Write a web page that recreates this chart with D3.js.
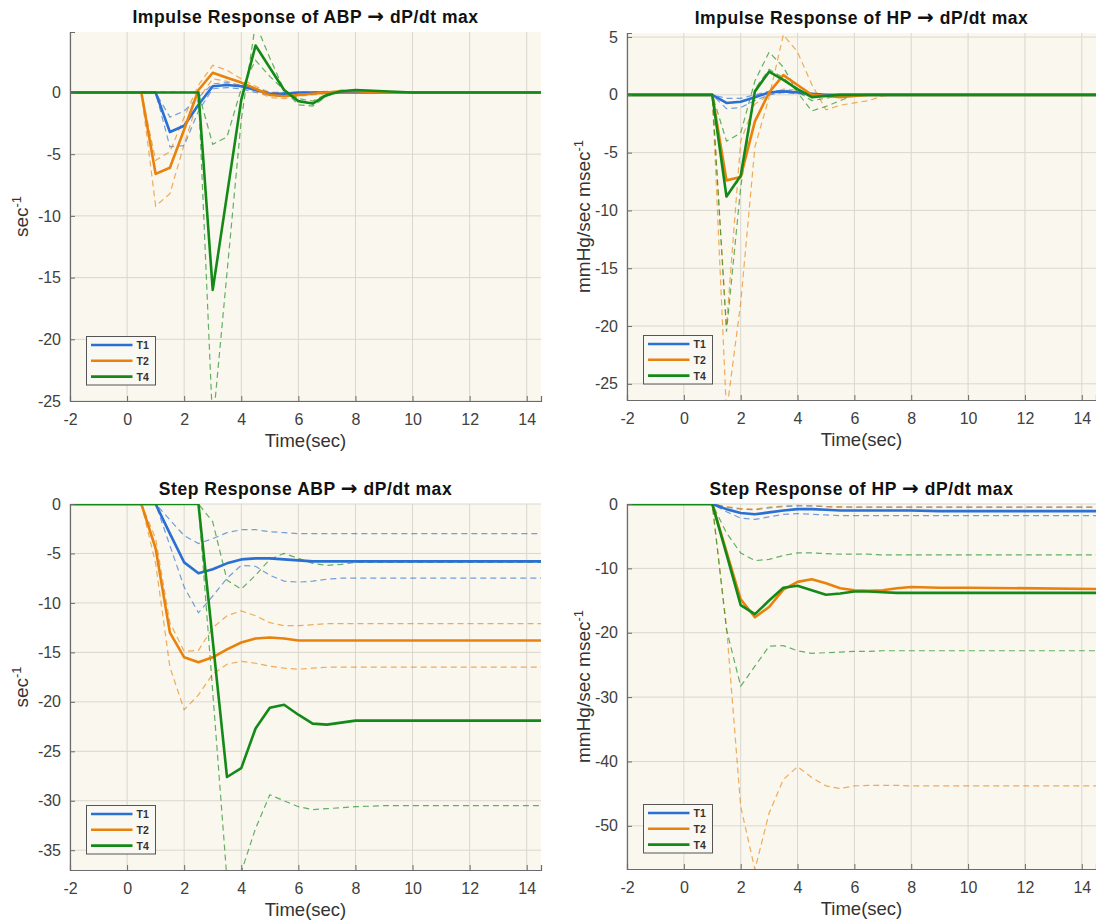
<!DOCTYPE html>
<html>
<head>
<meta charset="utf-8">
<script src="https://cdn.jsdelivr.net/npm/d3@7"></script>
<style>
  body { margin: 0; background: #fff; }
  svg { font-family: "Liberation Sans", Arial, sans-serif; }
</style>
</head>
<body>
<svg id="chart" width="1096" height="924"></svg>
<script>
/* ---------- data (sample times shared by every curve) ---------- */
var time = [-2, 0, 0.5, 1, 1.5, 2, 2.5, 3, 3.5, 4, 4.5, 5, 5.5, 6, 6.5, 7, 7.5, 8, 9, 10, 14.5];

var seriesNames = ['T1', 'T2', 'T4'];
var seriesColors = ['#2a6fd3', '#e8820c', '#138a17'];

// impulse response ABP -> dP/dt max  (mean, upper, lower)
var impAbpT1  = [0,0,0,0,-3.2,-2.7,-1.0,0.5,0.6,0.5,0.2,-0.1,-0.1,0,0,0,0,0,0,0,0];
var impAbpT1a = [0,0,0,0,-2.0,-1.5,-0.4,0.7,0.8,0.6,0.3,0,0,0,0,0,0,0,0,0,0];
var impAbpT1b = [0,0,0,0,-4.4,-4.3,-1.5,0.3,0.4,0.3,0,-0.2,-0.2,0,0,0,0,0,0,0,0];
var impAbpT2  = [0,0,0,-6.6,-6.1,-3.0,0.2,1.6,1.2,0.8,0.3,-0.2,-0.3,-0.2,-0.1,0,0.1,0.1,0,0,0];
var impAbpT2a = [0,0,0,-5.5,-4.8,-2.0,0.6,2.2,1.8,1.1,0.5,0,-0.1,-0.1,0,0.1,0.1,0.1,0,0,0];
var impAbpT2b = [0,0,0,-9.2,-8.2,-4.2,-0.5,1.1,0.9,0.5,0.1,-0.4,-0.5,-0.3,-0.2,-0.1,0,0.1,0,0,0];
var impAbpT4  = [0,0,0,0,0,0,0,-16,-8.3,-0.6,3.8,2.0,0.2,-0.7,-0.9,-0.2,0.1,0.2,0.1,0,0];
var impAbpT4a = [0,0,0,0,0,0,0,-4.2,-3.6,0.3,2.6,1.3,0.2,-0.5,-0.7,-0.1,0.2,0.1,0,0,0];
var impAbpT4b = [0,0,0,0,0,0,0,-27,-14.6,-2.2,5.6,2.8,0.2,-1.0,-1.1,-0.3,0.1,0.2,0.1,0,0];

// impulse response HP -> dP/dt max
var impHpT1  = [0,0,0,0,-0.7,-0.6,-0.2,0.2,0.3,0.2,0.1,0,0,0,0,0,0,0,0,0,0];
var impHpT1a = [0,0,0,0,-0.3,-0.3,0,0.3,0.4,0.3,0.1,0,0,0,0,0,0,0,0,0,0];
var impHpT1b = [0,0,0,0,-1.2,-1.1,-0.5,0,0.2,0.1,0,-0.1,0,0,0,0,0,0,0,0,0];
var impHpT2  = [0,0,0,0,-7.4,-7.1,-2.3,0.2,1.7,0.85,0,-0.1,-0.2,-0.1,0,0,0,0,0,0,0];
var impHpT2a = [0,0,0,0,-20,-4,-0.8,0,0.5,0.4,0.1,0,-0.1,0,0,0,0,0,0,0,0];
var impHpT2b = [0,0,0,0,-27.5,-18,-4.5,-0.2,5.2,3.7,0.9,-1.3,-0.9,-0.7,-0.5,-0.1,0,0,0,0,0];
var impHpT4  = [0,0,0,0,-8.8,-7.0,0.3,2.0,1.3,0.5,-0.2,-0.1,0,0,0,0,0,0,0,0,0];
var impHpT4a = [0,0,0,0,-4.0,-3.3,1.2,3.7,2.4,0.2,-1.4,-1.0,-0.5,0,0,0,0,0,0,0,0];
var impHpT4b = [0,0,0,0,-20.5,-8,0.5,2.2,1.5,0.3,-0.5,-0.3,0,0,0,0,0,0,0,0,0];

// step response ABP -> dP/dt max
var stepAbpT1  = [0,0,0,0,-3.0,-5.9,-7.0,-6.6,-6.0,-5.6,-5.5,-5.5,-5.6,-5.7,-5.8,-5.8,-5.8,-5.8,-5.8,-5.8,-5.8];
var stepAbpT1a = [0,0,0,0,-1.6,-3.2,-4.0,-3.5,-2.9,-2.6,-2.6,-2.8,-2.9,-3.0,-3.0,-3.0,-3.0,-3.0,-3.0,-3.0,-3.0];
var stepAbpT1b = [0,0,0,0,-4.2,-8.4,-11.0,-9.3,-7.5,-6.2,-6.3,-7.2,-7.8,-7.9,-7.8,-7.6,-7.5,-7.5,-7.5,-7.5,-7.5];
var stepAbpT2  = [0,0,0,-4.5,-13.0,-15.5,-16.0,-15.5,-14.7,-14.0,-13.6,-13.5,-13.6,-13.8,-13.8,-13.8,-13.8,-13.8,-13.8,-13.8,-13.8];
var stepAbpT2a = [0,0,0,-3.5,-12.0,-14.9,-14.8,-12.5,-11.3,-10.8,-11.3,-12.0,-12.3,-12.3,-12.2,-12.1,-12.1,-12.1,-12.1,-12.1,-12.1];
var stepAbpT2b = [0,0,0,-6.0,-16.5,-20.8,-19.3,-17.2,-16.2,-15.9,-16.1,-16.4,-16.6,-16.7,-16.6,-16.5,-16.5,-16.5,-16.5,-16.5,-16.5];
var stepAbpT4  = [0,0,0,0,0,0,0,-13.8,-27.6,-26.7,-22.7,-20.6,-20.3,-21.3,-22.2,-22.3,-22.1,-21.9,-21.9,-21.9,-21.9];
var stepAbpT4a = [0,0,0,0,0,0,0,-1.8,-7.7,-8.6,-7.2,-5.6,-5.0,-5.5,-6.0,-6.2,-6.1,-5.9,-5.9,-5.9,-5.9];
var stepAbpT4b = [0,0,0,0,0,0,0,-19,-38,-37.2,-32.8,-29.4,-30.0,-30.6,-30.9,-30.8,-30.7,-30.6,-30.5,-30.5,-30.5];

// step response HP -> dP/dt max
var stepHpT1  = [0,0,0,0,-0.8,-1.4,-1.6,-1.3,-1.0,-0.8,-0.8,-0.9,-1.0,-1.0,-1.0,-1.0,-1.0,-1.0,-1.1,-1.1,-1.1];
var stepHpT1a = [0,0,0,0,-0.5,-0.8,-0.9,-0.6,-0.4,-0.3,-0.3,-0.4,-0.5,-0.5,-0.5,-0.5,-0.5,-0.5,-0.5,-0.5,-0.5];
var stepHpT1b = [0,0,0,0,-1.2,-2.2,-2.4,-2.0,-1.6,-1.5,-1.6,-1.7,-1.8,-1.8,-1.8,-1.8,-1.8,-1.8,-1.8,-1.8,-1.8];
var stepHpT2  = [0,0,0,0,-7.4,-14.8,-17.6,-16.0,-13.3,-12.1,-11.7,-12.3,-13.1,-13.4,-13.5,-13.4,-13.1,-12.9,-13.0,-13.0,-13.2];
var stepHpT2a = [0,0,0,0,-0.4,-0.7,-0.8,-0.5,-0.3,-0.2,-0.3,-0.4,-0.4,-0.5,-0.5,-0.5,-0.5,-0.5,-0.5,-0.5,-0.5];
var stepHpT2b = [0,0,0,0,-19,-47,-56.8,-48,-42.8,-40.8,-42.5,-43.8,-44.2,-43.8,-43.7,-43.7,-43.7,-43.8,-43.8,-43.8,-43.8];
var stepHpT4  = [0,0,0,0,-7.8,-15.7,-17.1,-15.0,-13.0,-12.7,-13.4,-14.1,-13.9,-13.6,-13.6,-13.7,-13.8,-13.8,-13.8,-13.8,-13.8];
var stepHpT4a = [0,0,0,0,-4.5,-7.6,-8.8,-8.6,-8.0,-7.6,-7.6,-7.7,-7.8,-7.8,-7.8,-7.9,-7.9,-7.9,-7.9,-7.9,-7.9];
var stepHpT4b = [0,0,0,0,-19.5,-28.3,-25.2,-22.1,-22.0,-22.8,-23.2,-23.1,-23.0,-22.9,-22.9,-22.8,-22.8,-22.8,-22.8,-22.8,-22.8];

var xTicks = [-2, 0, 2, 4, 6, 8, 10, 12, 14];

/* ---------- panels ---------- */
var panels = [
  { id: 'p1', left: 70, right: 541, top: 32, bottom: 401, yDomain: [-25, 4.9],
    yTicks: [-25, -20, -15, -10, -5, 0], title: ['Impulse Response of ABP ', ' dP/dt max'],
    yLabel: 'sec', ySup: '-1', yLabelX: 28,
    mean: [impAbpT1, impAbpT2, impAbpT4], hi: [impAbpT1a, impAbpT2a, impAbpT4a], lo: [impAbpT1b, impAbpT2b, impAbpT4b] },
  { id: 'p2', left: 627, right: 1096, top: 33, bottom: 400, yDomain: [-26.4, 5.35],
    yTicks: [-25, -20, -15, -10, -5, 0, 5], title: ['Impulse Response of HP ', ' dP/dt max'],
    yLabel: 'mmHg/sec msec', ySup: '-1', yLabelX: 590,
    mean: [impHpT1, impHpT2, impHpT4], hi: [impHpT1a, impHpT2a, impHpT4a], lo: [impHpT1b, impHpT2b, impHpT4b] },
  { id: 'p3', left: 70, right: 541, top: 504, bottom: 870, yDomain: [-37, 0],
    yTicks: [-35, -30, -25, -20, -15, -10, -5, 0], title: ['Step Response ABP ', ' dP/dt max'],
    yLabel: 'sec', ySup: '-1', yLabelX: 28,
    mean: [stepAbpT1, stepAbpT2, stepAbpT4], hi: [stepAbpT1a, stepAbpT2a, stepAbpT4a], lo: [stepAbpT1b, stepAbpT2b, stepAbpT4b] },
  { id: 'p4', left: 627, right: 1096, top: 504, bottom: 869, yDomain: [-56.7, 0],
    yTicks: [-50, -40, -30, -20, -10, 0], title: ['Step Response of HP ', ' dP/dt max'],
    yLabel: 'mmHg/sec msec', ySup: '-1', yLabelX: 590,
    mean: [stepHpT1, stepHpT2, stepHpT4], hi: [stepHpT1a, stepHpT2a, stepHpT4a], lo: [stepHpT1b, stepHpT2b, stepHpT4b] }
];

var svg = d3.select('#chart');
var plainNum = function(d) { return String(d); };

panels.forEach(function(p) {
  var x = d3.scaleLinear().domain([-2, 14.5]).range([p.left, p.right]);
  var y = d3.scaleLinear().domain(p.yDomain).range([p.bottom, p.top]);
  var g = svg.append('g');

  svg.append('clipPath').attr('id', 'clip-' + p.id)
    .append('rect').attr('x', p.left).attr('y', p.top)
    .attr('width', p.right - p.left).attr('height', p.bottom - p.top);

  // plot background
  g.append('rect').attr('x', p.left).attr('y', p.top)
    .attr('width', p.right - p.left).attr('height', p.bottom - p.top)
    .attr('fill', '#faf7ee');

  // grid
  g.selectAll('.vg').data(xTicks).enter().append('line')
    .attr('x1', d => x(d)).attr('x2', d => x(d)).attr('y1', p.top).attr('y2', p.bottom)
    .attr('stroke', '#dad7ce').attr('stroke-width', 1);
  g.selectAll('.hg').data(p.yTicks).enter().append('line')
    .attr('x1', p.left).attr('x2', p.right).attr('y1', d => y(d)).attr('y2', d => y(d))
    .attr('stroke', '#dad7ce').attr('stroke-width', 1);

  // curves
  var line = d3.line().x((d, i) => x(time[i])).y(d => y(d));
  var curves = g.append('g').attr('clip-path', 'url(#clip-' + p.id + ')');
  [0, 1, 2].forEach(function(k) {
    [p.hi[k], p.lo[k]].forEach(function(arr) {
      curves.append('path').datum(arr).attr('d', line)
        .attr('fill', 'none').attr('stroke', seriesColors[k])
        .attr('stroke-opacity', 0.65).attr('stroke-width', 1.2)
        .attr('stroke-dasharray', '6,4');
    });
  });
  [0, 1, 2].forEach(function(k) {
    curves.append('path').datum(p.mean[k]).attr('d', line)
      .attr('fill', 'none').attr('stroke', seriesColors[k])
      .attr('stroke-width', 2.6).attr('stroke-linejoin', 'round');
  });

  // axes
  var xAxis = d3.axisBottom(x).tickValues(xTicks).tickFormat(plainNum).tickSize(-5).tickPadding(9);
  var yAxis = d3.axisLeft(y).tickValues(p.yTicks).tickFormat(plainNum).tickSize(-5).tickPadding(9);
  var gx = g.append('g').attr('transform', 'translate(0,' + p.bottom + ')').call(xAxis);
  var gy = g.append('g').attr('transform', 'translate(' + p.left + ',0)').call(yAxis);
  [gx, gy].forEach(function(ax) {
    ax.select('.domain').attr('stroke', '#6b6b6b').attr('stroke-width', 1.2);
    ax.selectAll('.tick line').attr('stroke', '#6b6b6b');
    ax.selectAll('.tick text').attr('fill', '#404040')
      .style('font-family', '"Liberation Sans", Arial, sans-serif').style('font-size', '16px');
  });
  gx.selectAll('.tick text').attr('dy', '0.95em');

  // title
  var tt = g.append('text').attr('x', (p.left + p.right) / 2).attr('y', p.top - 9)
    .attr('text-anchor', 'middle').style('font-size', '17.5px').style('font-weight', 'bold')
    .style('letter-spacing', '0.55px').attr('fill', '#111');
  tt.append('tspan').text(p.title[0]);
  tt.append('tspan').style('font-family', '"DejaVu Sans"').style('font-size', '20px').text('\u2192');
  tt.append('tspan').text(p.title[1]);

  // x label
  g.append('text').attr('x', (p.left + p.right) / 2).attr('y', p.bottom + 46)
    .attr('text-anchor', 'middle').style('font-size', '18.5px').attr('fill', '#333')
    .text('Time(sec)');

  // y label
  var yl = g.append('text')
    .attr('transform', 'translate(' + p.yLabelX + ',' + ((p.top + p.bottom) / 2) + ') rotate(-90)')
    .attr('text-anchor', 'middle').style('font-size', '19px').attr('fill', '#333');
  yl.append('tspan').text(p.yLabel);
  yl.append('tspan').attr('dy', -7).style('font-size', '13px').text(p.ySup);

  // legend
  var lx = p.left + 16.5, ly = p.bottom - 64.5;
  var lg = g.append('g');
  lg.append('rect').attr('x', lx).attr('y', ly).attr('width', 69).attr('height', 48.5)
    .attr('fill', '#faf8f2').attr('stroke', '#555').attr('stroke-width', 1);
  seriesNames.forEach(function(name, k) {
    var yy = ly + 8.5 + k * 15.8;
    lg.append('line').attr('x1', lx + 4.5).attr('x2', lx + 46).attr('y1', yy).attr('y2', yy)
      .attr('stroke', seriesColors[k]).attr('stroke-width', 2.6);
    lg.append('text').attr('x', lx + 50).attr('y', yy + 4)
      .style('font-size', '10.5px').style('font-weight', 'bold').attr('fill', '#333').text(name);
  });
});
</script>
</body>
</html>
